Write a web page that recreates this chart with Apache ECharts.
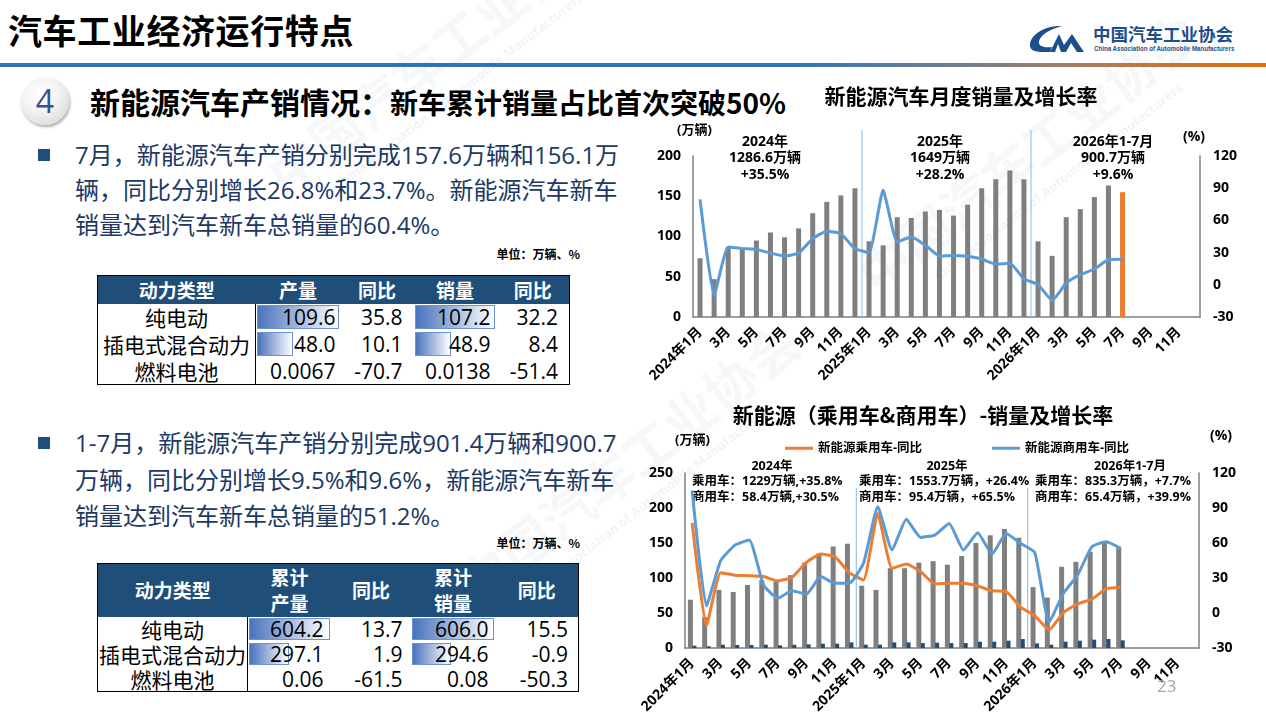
<!DOCTYPE html>
<html><head><meta charset="utf-8">
<script src="https://cdn.jsdelivr.net/npm/echarts@6/dist/echarts.min.js"></script>
<style>
html,body{margin:0;padding:0;background:#fff;}
#page{position:relative;width:1266px;height:714px;overflow:hidden;font-family:'Open Sans','Noto Sans CJK SC',sans-serif;color:#000;}
.abs{position:absolute;}
.wm{position:absolute;color:rgba(170,182,200,0.11);font-family:'Noto Sans CJK SC';font-weight:bold;white-space:nowrap;transform-origin:left top;}
.wms{position:absolute;color:rgba(170,182,200,0.16);font-family:'Open Sans';font-weight:bold;white-space:nowrap;transform-origin:left top;font-size:13px;}
#title{left:8px;top:6px;font-size:34px;font-weight:bold;font-family:'Noto Sans CJK SC';line-height:48px;letter-spacing:0.6px;white-space:nowrap;}
#hline{left:0;top:63px;width:1266px;height:4px;background:linear-gradient(to right,#2e75b6 0%,#2e75b6 62%,#6d7f95 75%,#b57a4e 88%,#e36c0a 100%);}
#circle{left:21px;top:77px;width:48px;height:48px;border-radius:50%;background:radial-gradient(circle at 40% 35%,#ffffff 0%,#f4f4f4 40%,#cfcfcf 100%);box-shadow:1px 2px 3px rgba(0,0,0,0.35);text-align:center;line-height:48px;font-size:32px;color:#2f5597;font-family:'Open Sans';}
#heading{left:90px;top:80px;white-space:nowrap;font-family:'Noto Sans CJK SC';font-weight:bold;line-height:42px;}
#heading .h1{font-size:30px;} #heading .h2{font-size:28px;}
.bullet{width:12px;height:12px;background:#1f4e79;}
.btext{white-space:nowrap;font-size:24px;color:#203864;font-family:'Open Sans','Noto Sans CJK SC';}
.unit{font-size:12px;font-weight:bold;text-align:right;width:120px;font-family:'Noto Sans CJK SC';white-space:nowrap;}
table.dt{position:absolute;border-collapse:collapse;border:1.5px solid #000;table-layout:fixed;}
table.dt td{padding:0;position:relative;white-space:nowrap;overflow:visible;}
table.dt tr.hd td{background:#1f4e79;color:#fff;font-weight:bold;font-size:19px;text-align:center;font-family:'Noto Sans CJK SC';line-height:26px;}
table.dt tr.bd td{font-size:21px;line-height:22px;}
table.dt td.c0{text-align:center;border-right:1.5px solid #000;font-family:'Noto Sans CJK SC';}
table.dt td.num{text-align:right;}
.dbar{position:absolute;left:1px;top:1px;bottom:2px;background:linear-gradient(to right,#4a73bd,#ffffff);border:1px solid #6d92d0;box-sizing:border-box;}
.ntx{position:relative;z-index:1;}
#c1{left:640px;top:80px;width:626px;height:320px;}
#c2{left:640px;top:400px;width:626px;height:314px;}
#pg{left:1157px;top:674px;font-size:17px;color:#a6a6a6;font-family:'Open Sans';}
</style></head>
<body><div id="page">
<div class="wm" style="left:250px;top:150px;font-size:52px;transform:rotate(-38deg);">中国汽车工业协会</div>
<div class="wms" style="left:330px;top:180px;transform:rotate(-38deg);">China Association of Automobile Manufacturers</div>
<div class="wm" style="left:840px;top:250px;font-size:52px;transform:rotate(-38deg);">中国汽车工业协会</div>
<div class="wms" style="left:930px;top:270px;transform:rotate(-38deg);">China Association of Automobile Manufacturers</div>
<div class="wm" style="left:440px;top:560px;font-size:52px;transform:rotate(-38deg);">中国汽车工业协会</div>
<div class="wms" style="left:520px;top:590px;transform:rotate(-38deg);">China Association of Automobile Manufacturers</div>

<div id="title" class="abs">汽车工业经济运行特点</div>
<div id="hline" class="abs"></div>
<svg class="abs" style="left:1028px;top:24px;" width="62" height="30" viewBox="0 0 62 30">
 <path d="M34,2 C18,1 3,10 2,20 C1,27 8,28 16,28 L22,28 L24,23 C15,24 10,22 11,17 C13,10 23,5 34,2 Z" fill="#1d4f8c"/>
 <path d="M22,28 L31,10 L36,21 L44,10 L56,28 L49,28 L43,19 L38,28 L33,28 L30,20 L27,28 Z" fill="#1d4f8c"/>
</svg>
<div class="abs" style="left:1093px;top:22px;font-size:17.5px;font-weight:bold;color:#1d4f8c;font-family:'Noto Sans CJK SC';white-space:nowrap;line-height:24px;">中国汽车工业协会</div>
<div class="abs" style="left:1094px;top:44px;font-size:7.5px;font-weight:bold;color:#1d4f8c;font-family:'Liberation Sans';white-space:nowrap;transform:scaleX(0.82);transform-origin:left top;">China Association of Automobile Manufacturers</div>

<div id="circle" class="abs">4</div>
<div id="heading" class="abs"><span class="h1">新能源汽车产销情况：</span><span class="h2">新车累计销量占比首次突破50%</span></div>

<div class="abs bullet" style="left:38px;top:149px;"></div>
<div class="abs btext" style="left:75px;top:137px;line-height:35px;">7月，新能源汽车产销分别完成157.6万辆和156.1万<br>辆，同比分别增长26.8%和23.7%。新能源汽车新车<br>销量达到汽车新车总销量的60.4%。</div>
<div class="abs unit" style="left:460px;top:245px;">单位：万辆、%</div>
<table id="t1" class="dt" style="left:97px;top:275px;"></table>

<div class="abs bullet" style="left:38px;top:437px;"></div>
<div class="abs btext" style="left:75px;top:425px;line-height:36.5px;">1-7月，新能源汽车产销分别完成901.4万辆和900.7<br>万辆，同比分别增长9.5%和9.6%，新能源汽车新车<br>销量达到汽车新车总销量的51.2%。</div>
<div class="abs unit" style="left:460px;top:534px;">单位：万辆、%</div>
<table id="t2" class="dt" style="left:97px;top:563px;"></table>

<div id="c1" class="abs"></div>
<div id="c2" class="abs"></div>
<div id="pg" class="abs">23</div>
</div>
<script>
// ---------- table data ----------
const powerTypes = ['纯电动','插电式混合动力','燃料电池'];
const t1Headers = ['动力类型','产量','同比','销量','同比'];
const julProd = ['109.6','48.0','0.0067'];
const julProdYoY = ['35.8','10.1','-70.7'];
const julSales = ['107.2','48.9','0.0138'];
const julSalesYoY = ['32.2','8.4','-51.4'];
const t2Headers = ['动力类型','累计<br>产量','同比','累计<br>销量','同比'];
const ytdProd = ['604.2','297.1','0.06'];
const ytdProdYoY = ['13.7','1.9','-61.5'];
const ytdSales = ['606.0','294.6','0.08'];
const ytdSalesYoY = ['15.5','-0.9','-50.3'];

// ---------- chart data ----------
const months = ['2024年1月','2月','3月','4月','5月','6月','7月','8月','9月','10月','11月','12月',
  '2025年1月','2月','3月','4月','5月','6月','7月','8月','9月','10月','11月','12月',
  '2026年1月','2月','3月','4月','5月','6月','7月','8月','9月','10月','11月','12月'];
const nevSales = [73,47,87,86,95,105,99,110,129,143,151,160,
  94,89,124,123,131,133,126,139.5,160,171,182,171,
  94,76,124,134,149,163.5,155];
const nevYoY = [79.6,-9.8,35.2,33.7,33,29.6,26.8,29.6,43,50,47.6,33.7,
  30,88,39.9,44.5,36.8,26.8,27.4,26.5,24,19.3,20,5.5,
  0.2,-14.6,1.7,9.4,14.7,23.3,23.7];
const pcSales = [69,44,83,80,90,97,95,104,122,135,145,149,
  89,83,114,114,122,124,119,131.5,150,161,170,157.5,
  87,72,116,123,137.6,150,144.7];
const cvSales = [3.3,2.4,4.7,4.3,4.3,4.7,3.8,4.7,5.2,6.2,6.2,8,
  4.7,4.7,8,8,7,7.6,7,7,9,9,10.4,12.8,
  6.6,4.7,9,10.4,11.9,12.8,10.9];
const pcYoY = [77.3,-10.9,34.6,32.3,32,31.2,27.5,30.6,43.4,50.5,48.3,34.6,
  28.3,85.3,38.3,42,35.5,24.9,25.5,25.5,23.2,19,18.4,5,
  -2.4,-14.4,0.4,7.8,11.8,20.7,21.8];
const cvYoY = [105,6.1,44.9,58.2,62.5,24,12.7,19,16.1,31.2,25.5,25.5,
  42.6,91,54,80.4,64.8,66.8,76.7,54,68.8,50.5,68.2,59.7,
  51.7,-8.1,16.9,32.6,56.8,61,55.4];
const yearBreaks = [12, 24];
const c1Notes = [['2024年','1286.6万辆','+35.5%'],['2025年','1649万辆','+28.2%'],['2026年1-7月','900.7万辆','+9.6%']];
const c2Notes = [['2024年','乘用车：1229万辆,+35.8%','商用车：58.4万辆,+30.5%'],
  ['2025年','乘用车：1553.7万辆，+26.4%','商用车：95.4万辆，+65.5%'],
  ['2026年1-7月','乘用车：835.3万辆，+7.7%','商用车：65.4万辆，+39.9%']];

// ---------- tables ----------
function buildTable(id, headers, colW, hH, rH, cols, pads, barCols){
  const t = document.getElementById(id);
  let h = '<colgroup>' + colW.map(w=>'<col style="width:'+w+'px">').join('') + '</colgroup>';
  h += '<tr class="hd" style="height:'+hH+'px">' + headers.map(x=>'<td>'+x+'</td>').join('') + '</tr>';
  const maxes = cols.map(c=>Math.max(...c.map(parseFloat)));
  for(let r=0;r<powerTypes.length;r++){
    h += '<tr class="bd" style="height:'+rH+'px"><td class="c0">'+powerTypes[r]+'</td>';
    cols.forEach((c,ci)=>{
      let bar='';
      if(barCols.includes(ci)){
        const w = parseFloat(c[r])/maxes[ci]*(colW[ci+1]-3);
        if(w>=2) bar = '<div class="dbar" style="width:'+w.toFixed(1)+'px"></div>';
      }
      h += '<td class="num" style="padding-right:'+pads[ci]+'px">'+bar+'<span class="ntx">'+c[r]+'</span></td>';
    });
    h += '</tr>';
  }
  t.innerHTML = h;
}
buildTable('t1', t1Headers, [158,85,73,83,73], 28, 27, [julProd,julProdYoY,julSales,julSalesYoY], [5,11,6,11], [0,2]);
buildTable('t2', t2Headers, [150,84,79,85,83], 53, 25, [ytdProd,ytdProdYoY,ytdSales,ytdSalesYoY], [8,8,7,10], [0,2]);

// ---------- charts ----------
const FF = "'Open Sans','Noto Sans CJK SC',sans-serif";
const lbl = {color:'#000',fontWeight:'bold',fontSize:14,fontFamily:FF};
const axLine = {show:true,lineStyle:{color:'#7f7f7f',width:1.5}};
function xAxes(){
  return [{type:'category',data:months,axisTick:{show:false},axisLine:axLine,
    axisLabel:{interval:1,rotate:45,fontSize:14,fontWeight:'bold',color:'#000',margin:13,fontFamily:FF}},
    {type:'value',min:0,max:months.length,show:false}];
}
function breakSeries(offset){
  return {type:'custom',xAxisIndex:1,yAxisIndex:0,silent:true,z:1,clip:false,
    data:yearBreaks.map(v=>[v,0]),
    renderItem:(params,api)=>{
      const cs = params.coordSys;
      const x = api.coord([api.value(0),0])[0];
      return {type:'line',shape:{x1:x,y1:cs.y+offset,x2:x,y2:cs.y+cs.height},style:{stroke:'#9dc3e6',lineWidth:1.2}};
    }};
}
function noteGraphics(notes, xs, y0, dy, aligns, size){
  const g=[];
  notes.forEach((n,i)=>{
    n.forEach((s,j)=>{
      const al = aligns[i][j];
      g.push({type:'text',x:al==='center'?xs[i][0]:xs[i][1],y:y0+j*dy,
        style:{text:s,font:'bold '+size+'px '+FF,fill:'#000',textAlign:al,textVerticalAlign:'middle'}});
    });
  });
  return g;
}

const c1 = echarts.init(document.getElementById('c1'));
const g1 = [
  {type:'text',x:321,y:16,style:{text:'新能源汽车月度销量及增长率',font:"bold 21px 'Noto Sans CJK SC'",fill:'#000',textAlign:'center',textVerticalAlign:'middle'}},
  {type:'text',x:37,y:50,style:{text:'(万辆)',font:'bold 13px '+FF,fill:'#000',textVerticalAlign:'middle'}},
  {type:'text',x:543,y:57,style:{text:'(%)',font:'bold 14px '+FF,fill:'#000',textVerticalAlign:'middle'}}
].concat(noteGraphics(c1Notes,[[125],[300],[473]],62,16.5,[['center','center','center'],['center','center','center'],['center','center','center']],14));
c1.setOption({
  animation:false,
  grid:{left:53,right:66,top:76,bottom:83,containLabel:false,outerBoundsMode:'none'},
  xAxis:xAxes(),
  yAxis:[{type:'value',min:0,max:200,interval:50,axisLine:axLine,axisTick:{show:false},splitLine:{show:false},axisLabel:Object.assign({margin:12},lbl)},
         {type:'value',min:-30,max:120,interval:30,position:'right',axisLine:axLine,axisTick:{show:false},splitLine:{show:false},axisLabel:Object.assign({margin:13},lbl)}],
  series:[
    {type:'bar',barWidth:5,z:2,itemStyle:{color:'#7f7f7f'},
     data:nevSales.map((v,i)=> i===nevSales.length-1 ? {value:v,itemStyle:{color:'#ed7d31'}} : v)},
    {type:'line',yAxisIndex:1,data:nevYoY,symbol:'none',smooth:0.15,z:3,lineStyle:{color:'#5b9bd5',width:3}},
    breakSeries(-26)
  ],
  graphic:g1
});

const c2 = echarts.init(document.getElementById('c2'));
const g2 = [
  {type:'text',x:283,y:15,style:{text:'新能源（乘用车&商用车）-销量及增长率',font:"bold 21px 'Noto Sans CJK SC'",fill:'#000',textAlign:'center',textVerticalAlign:'middle'}},
  {type:'text',x:35,y:40,style:{text:'(万辆)',font:'bold 13px '+FF,fill:'#000',textVerticalAlign:'middle'}},
  {type:'text',x:570,y:36,style:{text:'(%)',font:'bold 14px '+FF,fill:'#000',textVerticalAlign:'middle'}}
].concat(noteGraphics(c2Notes,[[132,52],[307,219],[490,395]],66,15.5,[['center','left','left'],['center','left','left'],['center','left','left']],12.5));
c2.setOption({
  animation:false,
  grid:{left:45,right:67,top:73,bottom:66,containLabel:false,outerBoundsMode:'none'},
  legend:{data:['新能源乘用车-同比','新能源商用车-同比'],left:140,top:37,itemWidth:28,itemHeight:3,icon:'rect',itemGap:70,
    textStyle:{fontWeight:'bold',fontSize:12.5,color:'#000',fontFamily:FF}},
  xAxis:xAxes(),
  yAxis:[{type:'value',min:0,max:250,interval:50,axisLine:axLine,axisTick:{show:false},splitLine:{show:false},axisLabel:Object.assign({margin:12},lbl)},
         {type:'value',min:-30,max:120,interval:30,position:'right',axisLine:axLine,axisTick:{show:false},splitLine:{show:false},axisLabel:Object.assign({margin:13},lbl)}],
  series:[
    {type:'bar',name:'乘用车',barWidth:5,barGap:'-10%',z:2,itemStyle:{color:'#7f7f7f'},data:pcSales},
    {type:'bar',name:'商用车',barWidth:4,z:2,itemStyle:{color:'#1f4e79'},data:cvSales},
    {type:'line',name:'新能源乘用车-同比',yAxisIndex:1,data:pcYoY,symbol:'none',smooth:0.15,z:3,lineStyle:{color:'#ed7d31',width:3},itemStyle:{color:'#ed7d31'}},
    {type:'line',name:'新能源商用车-同比',yAxisIndex:1,data:cvYoY,symbol:'none',smooth:0.15,z:3,lineStyle:{color:'#5b9bd5',width:3},itemStyle:{color:'#5b9bd5'}},
    breakSeries(15)
  ],
  graphic:g2
});
</script>
</body></html>
